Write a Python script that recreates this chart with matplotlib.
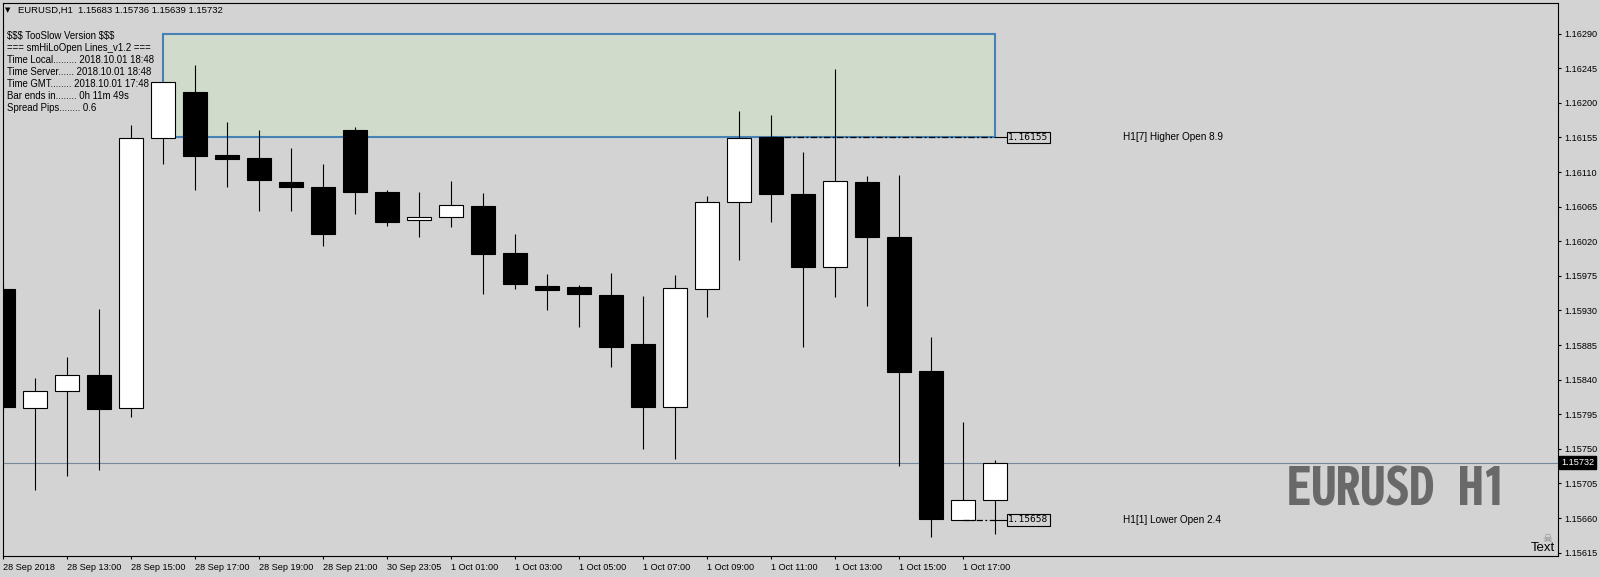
import numpy as np
import matplotlib
matplotlib.use("Agg")
import matplotlib.pyplot as plt
from matplotlib.patches import Rectangle
from matplotlib import font_manager as fm

plt.rcParams["text.parse_math"] = False

# EURUSD H1 bars, oldest first
opens = [1.15958, 1.15803, 1.15825, 1.15846, 1.15803, 1.16154, 1.16214, 1.16132,
         1.16128, 1.16097, 1.16090, 1.16165, 1.16084, 1.16047, 1.16051, 1.16066,
         1.16005, 1.15962, 1.15960, 1.15950, 1.15886, 1.15805, 1.15958, 1.16071,
         1.16155, 1.16081, 1.15987, 1.16097, 1.16025, 1.15851, 1.15658, 1.15683]
highs = [1.15963, 1.15842, 1.15870, 1.15932, 1.16171, 1.16227, 1.16249, 1.16175,
         1.16165, 1.16141, 1.16120, 1.16168, 1.16087, 1.16084, 1.16098, 1.16083,
         1.16029, 1.15977, 1.15963, 1.15979, 1.15949, 1.15976, 1.16079, 1.16189,
         1.16184, 1.16136, 1.16244, 1.16105, 1.16106, 1.15896, 1.15785, 1.15736]
lows = [1.15802, 1.15696, 1.15715, 1.15722, 1.15791, 1.16121, 1.16086, 1.16091,
        1.16059, 1.16059, 1.16014, 1.16056, 1.16040, 1.16026, 1.16039, 1.15952,
        1.15958, 1.15931, 1.15909, 1.15856, 1.15750, 1.15737, 1.15922, 1.15995,
        1.16045, 1.15882, 1.15948, 1.15936, 1.15728, 1.15635, 1.15657, 1.15639]
closes = [1.15804, 1.15825, 1.15846, 1.15802, 1.16154, 1.16227, 1.16131, 1.16127,
          1.16100, 1.16091, 1.16030, 1.16084, 1.16045, 1.16051, 1.16067, 1.16003,
          1.15964, 1.15957, 1.15951, 1.15883, 1.15805, 1.15959, 1.16071, 1.16154,
          1.16081, 1.15987, 1.16098, 1.16025, 1.15850, 1.15659, 1.15683, 1.15732]

x_tick_pos = list(range(0, 32, 2))
x_tick_labels = ["28 Sep 2018", "28 Sep 13:00", "28 Sep 15:00", "28 Sep 17:00",
                 "28 Sep 19:00", "28 Sep 21:00", "30 Sep 23:05", "1 Oct 01:00",
                 "1 Oct 03:00", "1 Oct 05:00", "1 Oct 07:00", "1 Oct 09:00",
                 "1 Oct 11:00", "1 Oct 13:00", "1 Oct 15:00", "1 Oct 17:00"]
y_ticks = [1.15615, 1.15660, 1.15705, 1.15750, 1.15795, 1.15840, 1.15885, 1.15930,
           1.15975, 1.16020, 1.16065, 1.16110, 1.16155, 1.16200, 1.16245, 1.16290]

last_price = 1.15732
higher_open = 1.16155   # H1[7]
lower_open = 1.15658    # H1[1]
zone_top = 1.16290
zone_start, zone_end = 5, 31

info_lines = ["$$$ TooSlow Version $$$",
              "=== smHiLoOpen Lines_v1.2 ===",
              "Time Local......... 2018.10.01 18:48",
              "Time Server...... 2018.10.01 18:48",
              "Time GMT........ 2018.10.01 17:48",
              "Bar ends in........ 0h 11m 49s",
              "Spread Pips........ 0.6"]

BG = "#D3D3D3"
W, H = 1600, 577
FONT = "Liberation Sans"
FS = 6.6
BIG_W = 220   # target width of the watermark in pixels

def fx(x):
    return x / W

def fy(y):
    return 1 - y / H

def weight_num(w):
    if isinstance(w, (int, float)):
        return w
    return fm.weight_dict.get(w, 400)

fig = plt.figure(figsize=(16, 5.77), dpi=100, facecolor=BG)
ax = fig.add_axes([fx(3), fy(556), fx(1558) - fx(3), fy(3) - fy(556)])
ax.set_facecolor(BG)

ax.set_xlim(-0.0094, 48.58)
ax.set_ylim(1.156107, 1.163298)

# zone box
ax.add_patch(Rectangle((zone_start, higher_open), zone_end - zone_start,
                       zone_top - higher_open, facecolor="#D0DBCB",
                       edgecolor="#4682B4", linewidth=1.5, zorder=1))

# current price line
ax.axhline(last_price, color="#778899", linewidth=0.8, zorder=2)

# candles
x = np.arange(len(opens))
o = np.array(opens); c = np.array(closes)
ax.vlines(x, lows, highs, color="black", linewidth=0.8, zorder=3)
bull = c >= o
bottoms = np.minimum(o, c)
heights = np.maximum(np.abs(c - o), 0.00002)
ax.bar(x[bull], heights[bull], bottom=bottoms[bull], width=0.75,
       facecolor="white", edgecolor="black", linewidth=0.8, zorder=4)
ax.bar(x[~bull], heights[~bull], bottom=bottoms[~bull], width=0.75,
       facecolor="black", edgecolor="black", linewidth=0.8, zorder=4)

# open level lines with labels
for lvl, start, txt in [(higher_open, 24, "H1[7] Higher Open 8.9"),
                        (lower_open, 30, "H1[1] Lower Open 2.4")]:
    ax.plot([start, 31], [lvl, lvl], color="black", linewidth=0.9,
            linestyle=(0, (5, 2, 1.5, 2)), zorder=5)
    ax.plot([31, 31.33], [lvl, lvl], color="black", linewidth=0.8, zorder=5)
    ax.text(31.4, lvl, f"{lvl:.5f}", family="DejaVu Sans Mono", fontsize=6.8,
            va="center", ha="left", color="black", zorder=6,
            bbox=dict(boxstyle="square,pad=0.15", facecolor=BG,
                      edgecolor="black", linewidth=0.8))
    ax.text(35.0, lvl, txt, family=FONT, fontsize=7.2, va="center", ha="left",
            color="black")

# big watermark label: pick the heavy upright condensed face closest to the wanted width
renderer = fig.canvas.get_renderer()
cands = [f for f in fm.fontManager.ttflist
         if "ondens" in str(f.stretch) and weight_num(f.weight) >= 700
         and f.style == "normal"
         and not any(k in (f.name + f.fname) for k in
                     ("Mono", "Serif", "CJK", "Math", "Italic", "Oblique"))]
best = None
for f in cands:
    prop = fm.FontProperties(fname=f.fname, size=43)
    t = fig.text(0, 0, "EURUSD H1", fontproperties=prop)
    wdt = t.get_window_extent(renderer).width
    t.remove()
    score = abs(wdt - BIG_W) - 0.05 * weight_num(f.weight)
    if best is None or score < best[2]:
        best = (prop, wdt, score)
if best is None:
    prop = fm.FontProperties(family=FONT, weight="bold", size=43)
    t = fig.text(0, 0, "EURUSD H1", fontproperties=prop)
    best = (prop, t.get_window_extent(renderer).width, 0)
    t.remove()
big_prop, big_w, _ = best
big_prop.set_size(max(30, min(50, 43 * BIG_W / big_w)))
ax.text(40.1, 1.15677, "EURUSD H1", fontproperties=big_prop, color="#696969",
        va="baseline", ha="left", zorder=2)

# axes styling
for s in ax.spines.values():
    s.set_color("black")
    s.set_linewidth(0.8)
ax.yaxis.tick_right()
ax.set_yticks(y_ticks)
ax.set_yticklabels([f"{v:.5f}" for v in y_ticks], family=FONT, fontsize=FS)
ax.set_xticks(x_tick_pos)
ax.set_xticklabels(x_tick_labels, family=FONT, fontsize=FS, ha="left")
ax.tick_params(axis="both", direction="out", length=2.5, width=0.8,
               color="black", labelcolor="black")
ax.tick_params(axis="x", pad=2.5)
ax.tick_params(axis="y", pad=2)

# current price tag on the price axis
fig.text(fx(1561), fy(462.5), f"{last_price:.5f}", family=FONT, fontsize=FS,
         color="white", va="center", ha="left",
         bbox=dict(boxstyle="square,pad=0.2", facecolor="black",
                   edgecolor="black"))

# header and info block
fig.text(fx(5), fy(10.5), "\u25BC", family="DejaVu Sans", fontsize=5,
         va="center", ha="left", color="black")
fig.text(fx(18), fy(10.5), "EURUSD,H1  1.15683 1.15736 1.15639 1.15732",
         family=FONT, fontsize=6.8, va="center", ha="left", color="black")
for k, line in enumerate(info_lines):
    fig.text(fx(7), fy(35.7 + 12 * k), line, family=FONT, fontsize=6.9,
             va="center", ha="left", color="black")

fig.text(fx(1547), fy(539), "\u2620", family="DejaVu Sans", fontsize=8,
         va="center", ha="center", color="#808080")
fig.text(fx(1531), fy(548), "Text", family=FONT, fontsize=9.5,
         va="center", ha="left", color="black")

fig.savefig("out.png", dpi=100, facecolor=BG)
